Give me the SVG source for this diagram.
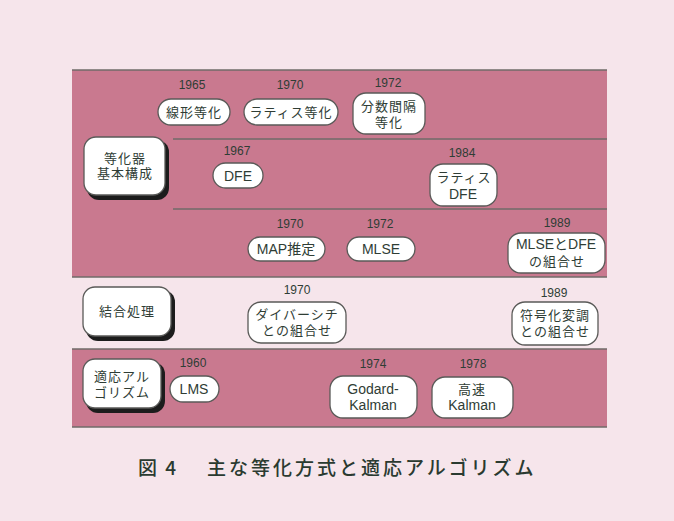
<svg xmlns="http://www.w3.org/2000/svg" width="674" height="521" viewBox="0 0 674 521">
<style>
.band{fill:#c9798f}
.ln{stroke:#6f6b68;stroke-width:1.5;fill:none}
.node{fill:#ffffff;stroke:#5a5a58;stroke-width:1.3}
.shadow{fill:#1c1c1c}
.t{font-family:"Liberation Sans","Noto Sans CJK JP",sans-serif;font-size:14px;fill:#2f3d35;text-anchor:middle}
.j{font-family:"Noto Sans CJK JP",sans-serif;font-size:13px;fill:#2f3d35;text-anchor:middle;letter-spacing:1px}
.y{font-family:"Liberation Sans",sans-serif;font-size:12px;fill:#2f3d35;text-anchor:middle}
.cap{font-family:"Noto Sans CJK JP",sans-serif;font-size:19px;font-weight:500;fill:#2a3a30}
</style>
<rect width="674" height="521" fill="#f6e5eb"/>
<g id="bands">
<rect class="band" x="72" y="70" width="535" height="207"/>
<rect class="band" x="72" y="349" width="535" height="78"/>
<line class="ln" x1="72" y1="70" x2="607" y2="70" stroke="#8c958b"/>
<line class="ln" x1="72" y1="277" x2="607" y2="277"/>
<line class="ln" x1="72" y1="349" x2="607" y2="349"/>
<line class="ln" x1="72" y1="427" x2="607" y2="427"/>
</g>
<g id="connectors">
<line class="ln" x1="173" y1="139" x2="607" y2="139"/>
<line class="ln" x1="173" y1="209" x2="607" y2="209"/>
</g>
<g id="n-kihon">
<rect class="shadow" x="87" y="140" width="82" height="60" rx="12"/>
<rect class="node" x="84" y="137" width="81" height="58" rx="12"/>
<text class="j" x="125" y="163">等化器<tspan x="125" dy="15">基本構成</tspan></text>
</g>
<g id="n-ketsugo">
<rect class="shadow" x="86" y="290" width="89" height="51" rx="12"/>
<rect class="node" x="83" y="287" width="88" height="49" rx="12"/>
<text class="j" x="127" y="316">結合処理</text>
</g>
<g id="n-tekio">
<rect class="shadow" x="86" y="362" width="79" height="51" rx="12"/>
<rect class="node" x="83" y="359" width="78" height="49" rx="12"/>
<text class="j" x="122" y="381">適応アル<tspan x="122" dy="16">ゴリズム</tspan></text>
</g>
<g id="n-senkei">
<text class="y" x="192" y="89">1965</text>
<rect class="node" x="158" y="99" width="72" height="26" rx="13"/>
<text class="j" x="194" y="117">線形等化</text>
</g>
<g id="n-lattice">
<text class="y" x="290" y="89">1970</text>
<rect class="node" x="244" y="99" width="94" height="26" rx="13"/>
<text class="j" x="291" y="117">ラティス等化</text>
</g>
<g id="n-bunsu">
<text class="y" x="388" y="87">1972</text>
<rect class="node" x="353" y="93" width="72" height="41" rx="13"/>
<text class="j" x="389" y="111">分数間隔<tspan x="389" dy="16">等化</tspan></text>
</g>
<g id="n-dfe">
<text class="y" x="237" y="155">1967</text>
<rect class="node" x="213" y="163" width="50" height="25" rx="12.5"/>
<text class="t" x="238" y="181">DFE</text>
</g>
<g id="n-ldfe">
<text class="y" x="462" y="157">1984</text>
<rect class="node" x="430" y="164" width="67" height="42" rx="13"/>
<text class="j" x="464" y="182">ラティス<tspan class="t" x="463" dy="17" style="letter-spacing:0">DFE</tspan></text>
</g>
<g id="n-map">
<text class="y" x="290" y="228">1970</text>
<rect class="node" x="248" y="237" width="77" height="24" rx="12"/>
<text class="t" x="286" y="254">MAP推定</text>
</g>
<g id="n-mlse">
<text class="y" x="380" y="228">1972</text>
<rect class="node" x="347" y="237" width="68" height="24" rx="12"/>
<text class="t" x="381" y="254">MLSE</text>
</g>
<g id="n-mlsedfe">
<text class="y" x="557" y="227">1989</text>
<rect class="node" x="508" y="233" width="97" height="40" rx="13"/>
<text class="t" x="556" y="249">MLSEとDFE<tspan x="557" dy="17" style="font-family:'Noto Sans CJK JP',sans-serif;font-size:13px;letter-spacing:1px">の組合せ</tspan></text>
</g>
<g id="n-diversity">
<text class="y" x="297" y="294">1970</text>
<rect class="node" x="248" y="302" width="98" height="41" rx="13"/>
<text class="j" x="297" y="319">ダイバーシチ<tspan x="297" dy="16">との組合せ</tspan></text>
</g>
<g id="n-fugoka">
<text class="y" x="554" y="297">1989</text>
<rect class="node" x="512" y="302" width="86" height="43" rx="13"/>
<text class="j" x="555" y="320">符号化変調<tspan x="555" dy="16">との組合せ</tspan></text>
</g>
<g id="n-lms">
<text class="y" x="193" y="367">1960</text>
<rect class="node" x="170" y="376" width="49" height="26" rx="13"/>
<text class="t" x="194" y="394">LMS</text>
</g>
<g id="n-godard">
<text class="y" x="373" y="368">1974</text>
<rect class="node" x="330" y="376" width="87" height="42" rx="13"/>
<text class="t" x="373" y="394">Godard-<tspan x="373" dy="16">Kalman</tspan></text>
</g>
<g id="n-kosoku">
<text class="y" x="473" y="368">1978</text>
<rect class="node" x="432" y="377" width="81" height="41" rx="13"/>
<text class="j" x="472" y="394">高速<tspan class="t" x="472" dy="16" style="letter-spacing:0">Kalman</tspan></text>
</g>
<text class="cap" x="138" y="475" letter-spacing="2">図 4</text>
<text class="cap" x="207" y="475" letter-spacing="3">主な等化方式と適応アルゴリズム</text>
</svg>
